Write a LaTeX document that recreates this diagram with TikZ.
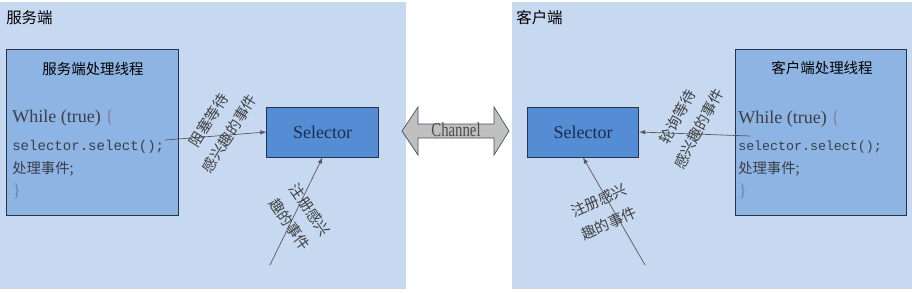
\documentclass[tikz,border=0pt]{standalone}
\usepackage{fontspec}
\setmainfont{Liberation Serif}
\setmonofont{Liberation Mono}
\newfontfamily\cjk{Noto Sans CJK SC}
\usepackage{xcolor}
\usetikzlibrary{positioning}

\definecolor{panelbg}{RGB}{198,217,241}
\definecolor{threadfill}{RGB}{141,180,227}
\definecolor{selfill}{RGB}{84,141,212}
\definecolor{boxline}{RGB}{38,50,72}
\definecolor{codetext}{RGB}{60,62,72}
\definecolor{seltext}{RGB}{28,44,80}
\definecolor{bracecol}{RGB}{120,134,158}
\definecolor{arrowgray}{RGB}{192,192,192}

\begin{document}
\begin{tikzpicture}[>=latex, x=0.025cm, y=-0.025cm,
    threadbox/.style={draw=boxline, line width=0.6pt, fill=threadfill,
        minimum width=4.28cm, minimum height=4.14cm, inner sep=0pt},
    selbox/.style={draw=boxline, line width=0.7pt, fill=selfill,
        minimum width=2.78cm, minimum height=1.25cm, inner sep=0pt,
        font=\fontsize{12.8}{14}\selectfont, text=seltext},
    flow/.style={->, draw=black!65, line width=0.5pt},
    tag/.style={font=\fontsize{10.5}{17.5}\cjk, text=black!75, align=center},
    code/.style={anchor=west, inner sep=0pt, text=codetext}]
    \useasboundingbox (0,0) rectangle (912,292);

    % 两个背景区域
    \fill[panelbg] (0,2) rectangle (406,289);
    \fill[panelbg] (512,2) rectangle (912,289);
    \node[anchor=west, inner sep=0pt, font=\fontsize{11}{13}\cjk] (srv) at (6,18) {服务端};
    \node[anchor=west, inner sep=0pt, font=\fontsize{11}{13}\cjk] (cli) at (516,18) {客户端};

    % 服务端处理线程
    \node[threadbox] (t1) at (92.5,132.5) {};
    \node[font=\fontsize{10.3}{12}\cjk] (t1title) at (93,69) {服务端处理线程};
    \node[code, font=\fontsize{12.8}{14}\selectfont] (w1) at (12,118) {While (true) \textcolor{bracecol}{\{}};
    \node[code, font=\fontsize{10}{12}\ttfamily] (c1) at (12,147) {selector.select();};
    \node[code, font=\fontsize{10.2}{12}\cjk] (h1) at (12,169) {处理事件;};
    \node[code, font=\fontsize{12.8}{14}\selectfont, text=bracecol] (b1) at (12,191) {\}};

    % 客户端处理线程
    \node[threadbox] (t2) at (821,132.5) {};
    \node[font=\fontsize{10.3}{12}\cjk] (t2title) at (822,68) {客户端处理线程};
    \node[code, font=\fontsize{12.8}{14}\selectfont] (w2) at (738,119) {While (true) \textcolor{bracecol}{\{}};
    \node[code, font=\fontsize{9.45}{12}\ttfamily] (c2) at (738,147) {selector.select();};
    \node[code, font=\fontsize{10.2}{12}\cjk] (h2) at (738,169) {处理事件;};
    \node[code, font=\fontsize{12.8}{14}\selectfont, text=bracecol] (b2) at (738,191) {\}};

    % Selector
    \node[selbox] (sel1) at (322.5,132) {Selector};
    \node[selbox] (sel2) at (583,132) {Selector};

    % Channel 双箭头
    \draw[fill=arrowgray, draw=boxline!85, line width=0.5pt]
        (402,131) -- (418,107) -- (418,124) -- (494,124) -- (494,107) -- (509,131)
        -- (494,155) -- (494,138) -- (418,138) -- (418,155) -- cycle;
    \node[font=\fontsize{14}{14}\selectfont, text=black!70, inner sep=0pt] (ch) at (456,130)
        {\scalebox{0.75}[1]{Channel}};

    % 箭头
    \coordinate (p1) at (165,140);
    \coordinate (p2) at (750,136);
    \coordinate (q1) at (270,265);
    \coordinate (q2) at (645,265);
    \draw[flow] (p1) -- (sel1.west);
    \draw[flow] (p2) -- (sel2.east);
    \draw[flow] (q1) -- (sel1.south);
    \draw[flow] (q2) -- (sel2.south);

    % 箭头说明
    \node[tag, rotate=58] (l1) at (219,127) {阻塞等待\\感兴趣的事件};
    \node[tag, rotate=-55] (l2) at (300,217) {注册感兴\\趣的事件};
    \node[tag, rotate=62] (l3) at (688,123) {轮询等待\\感兴趣的事件};
    \node[tag, rotate=24] (l4) at (604,212) {注册感兴\\趣的事件};
\end{tikzpicture}
\end{document}
